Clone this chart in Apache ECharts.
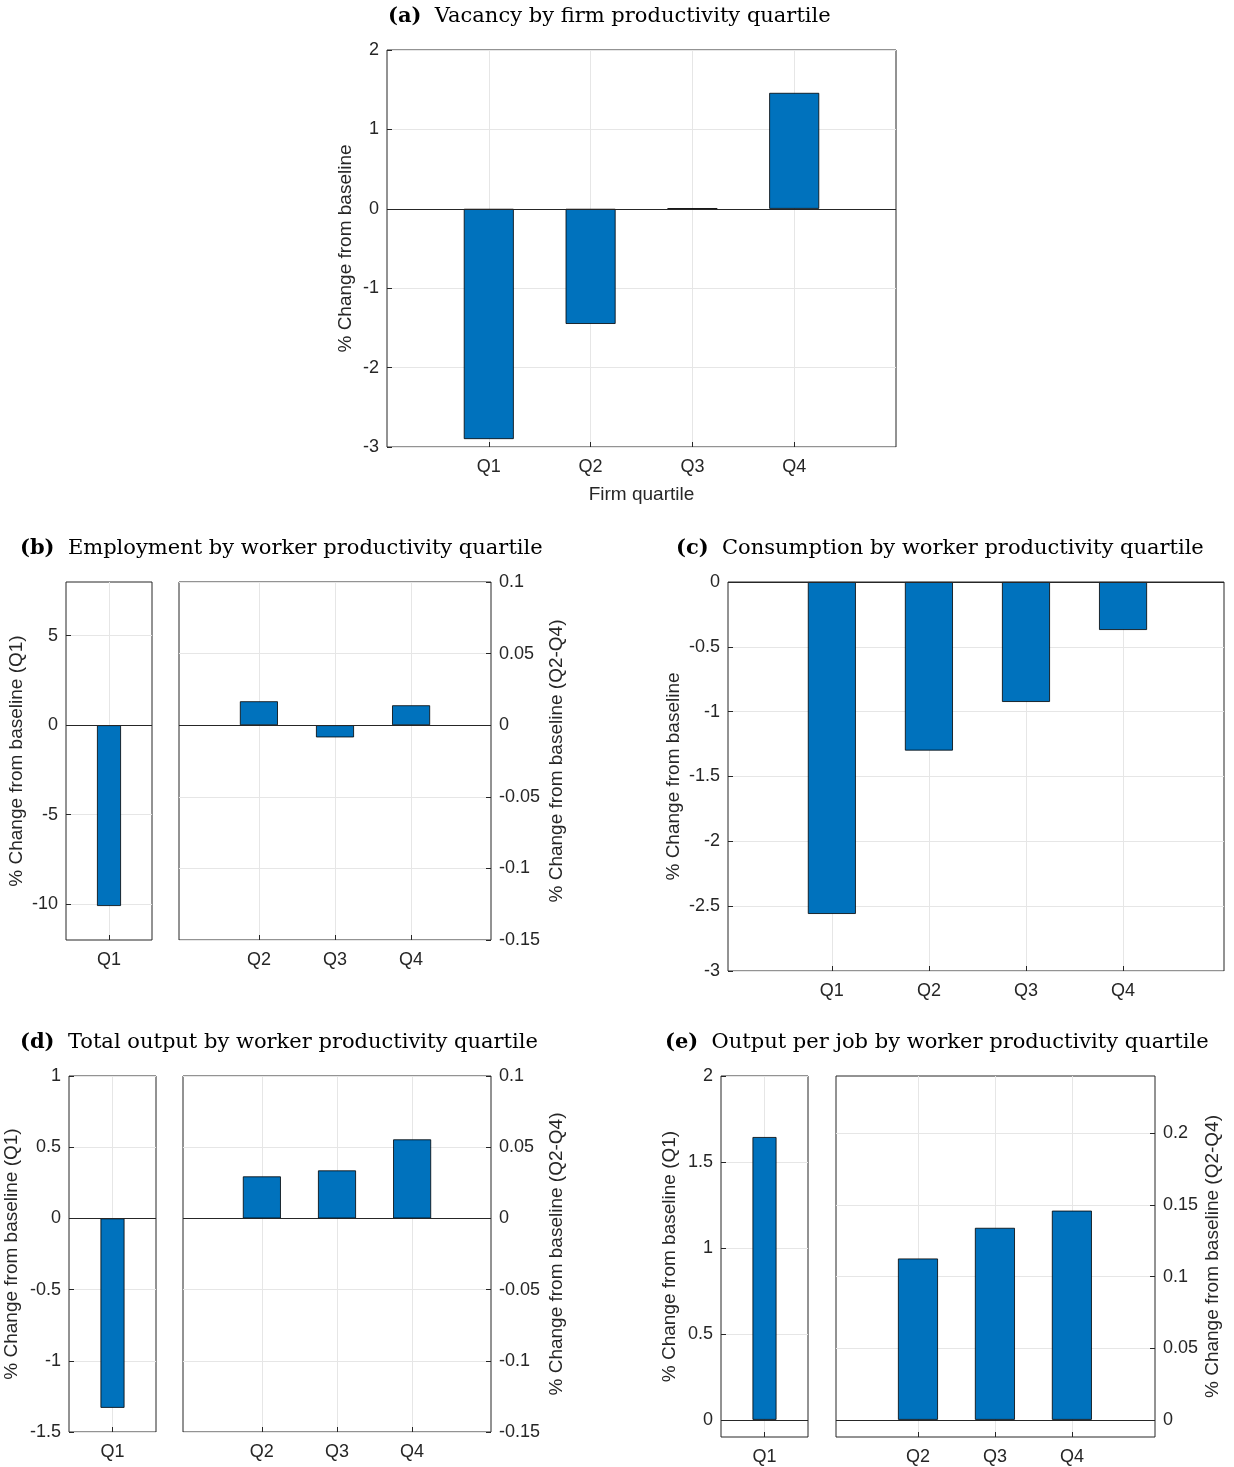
<!DOCTYPE html>
<html><head><meta charset="utf-8">
<script src="https://cdn.jsdelivr.net/npm/echarts@6/dist/echarts.min.js"></script>
<style>html,body{margin:0;background:#fff}#c{width:1234px;height:1467px}</style>
</head><body><div id="c"></div>
<script>
// quartile names
const quartiles = ['Q1', 'Q2', 'Q3', 'Q4']
// (a) vacancy by firm quartile
const vacancy = [-2.9, -1.45, 0.004, 1.46]
// (b) employment: Q1 on its own axis, Q2-Q4 on another
const employQ1 = [-10.1]
const employQ24 = [0.0167, -0.0085, 0.0139]
// (c) consumption
const consumption = [-2.56, -1.30, -0.925, -0.37]
// (d) total output
const outputQ1 = [-1.33]
const outputQ24 = [0.0295, 0.0337, 0.0555]
// (e) output per job
const perJobQ1 = [1.645]
const perJobQ24 = [0.1126, 0.134, 0.146]

const FONT = 'Liberation Sans'
const grids = [], xAxes = [], yAxes = [], series = []

//一个坐标框
function panel(box, xr, cats, vals, yr, bw, opt) {
  opt = opt || {}
  const i = grids.length
  grids.push({left: box[0], top: box[1], width: box[2] - box[0], height: box[3] - box[1],
    show: true, borderColor: '#262626', borderWidth: 1, backgroundColor: '#fff'})
  const catIdx = cats.map(c => quartiles.indexOf(c) + 1)
  xAxes.push({type: 'value', gridIndex: i, min: xr[0], max: xr[1],
    axisLine: {show: false, onZero: false},
    axisTick: {show: true, inside: true, length: 5, customValues: catIdx, lineStyle: {color: '#262626'}},
    axisLabel: {customValues: catIdx, formatter: v => quartiles[Math.round(v) - 1], fontFamily: FONT, fontSize: 18, color: '#262626', margin: 11},
    splitLine: {show: true, lineStyle: {color: '#e6e6e6'}},
    name: opt.xName || '', nameLocation: 'middle', nameGap: 38,
    nameTextStyle: {fontFamily: FONT, fontSize: 19, color: '#262626'}})
  const y = {type: 'value', gridIndex: i, min: yr[0], max: yr[1], position: opt.right ? 'right' : 'left',
    axisLine: {show: false, onZero: false},
    axisTick: {show: true, inside: true, length: 5, lineStyle: {color: '#262626'}},
    axisLabel: {fontFamily: FONT, fontSize: 18, color: '#262626', margin: 8},
    splitLine: {show: true, lineStyle: {color: '#e6e6e6'}},
    name: opt.yName || '', nameLocation: 'middle', nameRotate: 90, nameGap: opt.nameGap || 40,
    nameTextStyle: {fontFamily: FONT, fontSize: 19, color: '#262626'}}
  if (yr[2]) {
    y.axisTick.customValues = yr[2]; y.axisLabel.customValues = yr[2]
    y.splitLine.customValues = yr[2]
  } else y.interval = yr[3]
  yAxes.push(y)
  series.push({type: 'bar', xAxisIndex: i, yAxisIndex: i, barWidth: bw,
    data: vals.map((v, k) => [catIdx[k], v]),
    itemStyle: {color: '#0072BD', borderColor: '#000', borderWidth: 0.8},
    markLine: {silent: true, symbol: 'none', label: {show: false},
      lineStyle: {color: '#262626', type: 'solid', width: 1}, data: [{yAxis: 0}]}})
}

const YL = '% Change from baseline'
panel([387, 50, 896, 447], [0, 5], quartiles, vacancy, [-3, 2, null, 1], 50, {yName: YL, xName: 'Firm quartile', nameGap: 32})
panel([66, 582, 152, 940], [0, 2], ['Q1'], employQ1, [-12, 8, [-10, -5, 0, 5]], 24, {yName: YL + ' (Q1)', nameGap: 40})
panel([179, 582, 491, 940], [0.95, 5.05], ['Q2', 'Q3', 'Q4'], employQ24, [-0.15, 0.1, null, 0.05], 38, {yName: YL + ' (Q2-Q4)', right: true, nameGap: 56})
panel([728, 582, 1224, 971], [-0.07, 5.04], quartiles, consumption, [-3, 0, null, 0.5], 48, {yName: YL, nameGap: 45})
panel([69, 1076, 156, 1432], [0, 2], ['Q1'], outputQ1, [-1.5, 1, null, 0.5], 24, {yName: YL + ' (Q1)', nameGap: 48})
panel([183, 1076, 491, 1432], [0.95, 5.05], ['Q2', 'Q3', 'Q4'], outputQ24, [-0.15, 0.1, null, 0.05], 38, {yName: YL + ' (Q2-Q4)', right: true, nameGap: 56})
panel([721, 1076, 808, 1437], [0, 2], ['Q1'], perJobQ1, [-0.1, 2, [0, 0.5, 1, 1.5, 2]], 24, {yName: YL + ' (Q1)', nameGap: 42})
panel([836, 1076, 1155, 1437], [0.935, 5.08], ['Q2', 'Q3', 'Q4'], perJobQ24, [-0.012, 0.24, [0, 0.05, 0.1, 0.15, 0.2]], 40, {yName: YL + ' (Q2-Q4)', right: true, nameGap: 48})

function title(x, y, tag, txt) {
  return {type: 'text', left: x, top: y, style: {
    text: '{b|(' + tag + ')}  ' + txt,
    font: '21px "DejaVu Serif"', fill: '#000',
    rich: {b: {fontWeight: 'bold', fontFamily: 'DejaVu Serif', fontSize: 21}}}}
}

const chart = echarts.init(document.getElementById('c'))
chart.setOption({
  animation: false,
  grid: grids, xAxis: xAxes, yAxis: yAxes, series: series,
  graphic: [
    title(388, 6, 'a', 'Vacancy by firm productivity quartile'),
    title(20, 538, 'b', 'Employment by worker productivity quartile'),
    title(676, 538, 'c', 'Consumption by worker productivity quartile'),
    title(20, 1032, 'd', 'Total output by worker productivity quartile'),
    title(665, 1032, 'e', 'Output per job by worker productivity quartile')
  ]
})
</script></body></html>
